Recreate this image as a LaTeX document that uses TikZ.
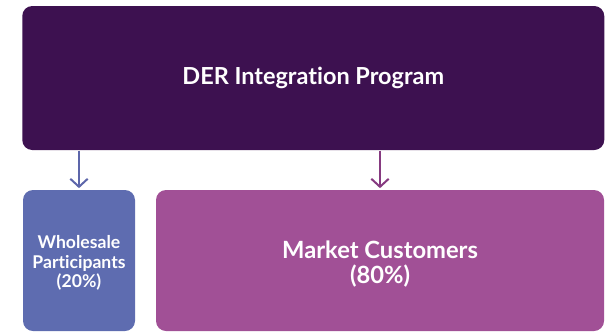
\documentclass[tikz,border=0pt]{standalone}
\usepackage{fontspec}
\setmainfont{Lato}[BoldFont={Lato Bold}, Ligatures=NoCommon]
\usetikzlibrary{arrows.meta}

\definecolor{derTop}{RGB}{61,17,80}
\definecolor{derLeft}{RGB}{94,108,176}
\definecolor{derRight}{RGB}{161,80,150}
\definecolor{arrLeft}{RGB}{93,102,170}
\definecolor{arrRight}{RGB}{134,58,128}

\tikzset{every picture/.style={line width=0.75pt}}
\tikzset{
  box/.style={rounded corners=7.5pt, inner sep=0pt, text=white, font=\bfseries, align=center},
  flow/.style={line width=1.5pt, -{Straight Barb[length=6pt,width=13pt,line width=1.5pt]}, shorten >=1pt}
}

\begin{document}
\begin{tikzpicture}[x=0.75pt,y=0.75pt,yscale=-1,xscale=1]
\useasboundingbox (0,0) rectangle (605,332);

% Top box
\node [box, fill=derTop, minimum width=436.5pt, minimum height=108pt, font=\bfseries\fontsize{17.6}{20}\selectfont] (prog) at (313.25,78) {DER Integration Program};

% Bottom boxes
\node [box, fill=derLeft, minimum width=84pt, minimum height=105.75pt] (whole) at (79,260.5) {};
\node [box, fill=derRight, minimum width=336pt, minimum height=105.75pt] (market) at (380,260.5) {};

% Text Node
\node [box, font=\bfseries\fontsize{13.2}{14.6}\selectfont] (wholeTxt) at (79,263) {Wholesale\\Participants\\(20\%)};
% Text Node
\node [box, font=\bfseries\fontsize{17.8}{18.2}\selectfont] (marketTxt) at (380,264) {Market Customers\\(80\%)};

% Arrows
\draw [flow, draw=arrLeft] (prog.south -| whole.north) -- (whole.north);
\draw [flow, draw=arrRight] (prog.south -| market.north) -- (market.north);

\end{tikzpicture}
\end{document}
